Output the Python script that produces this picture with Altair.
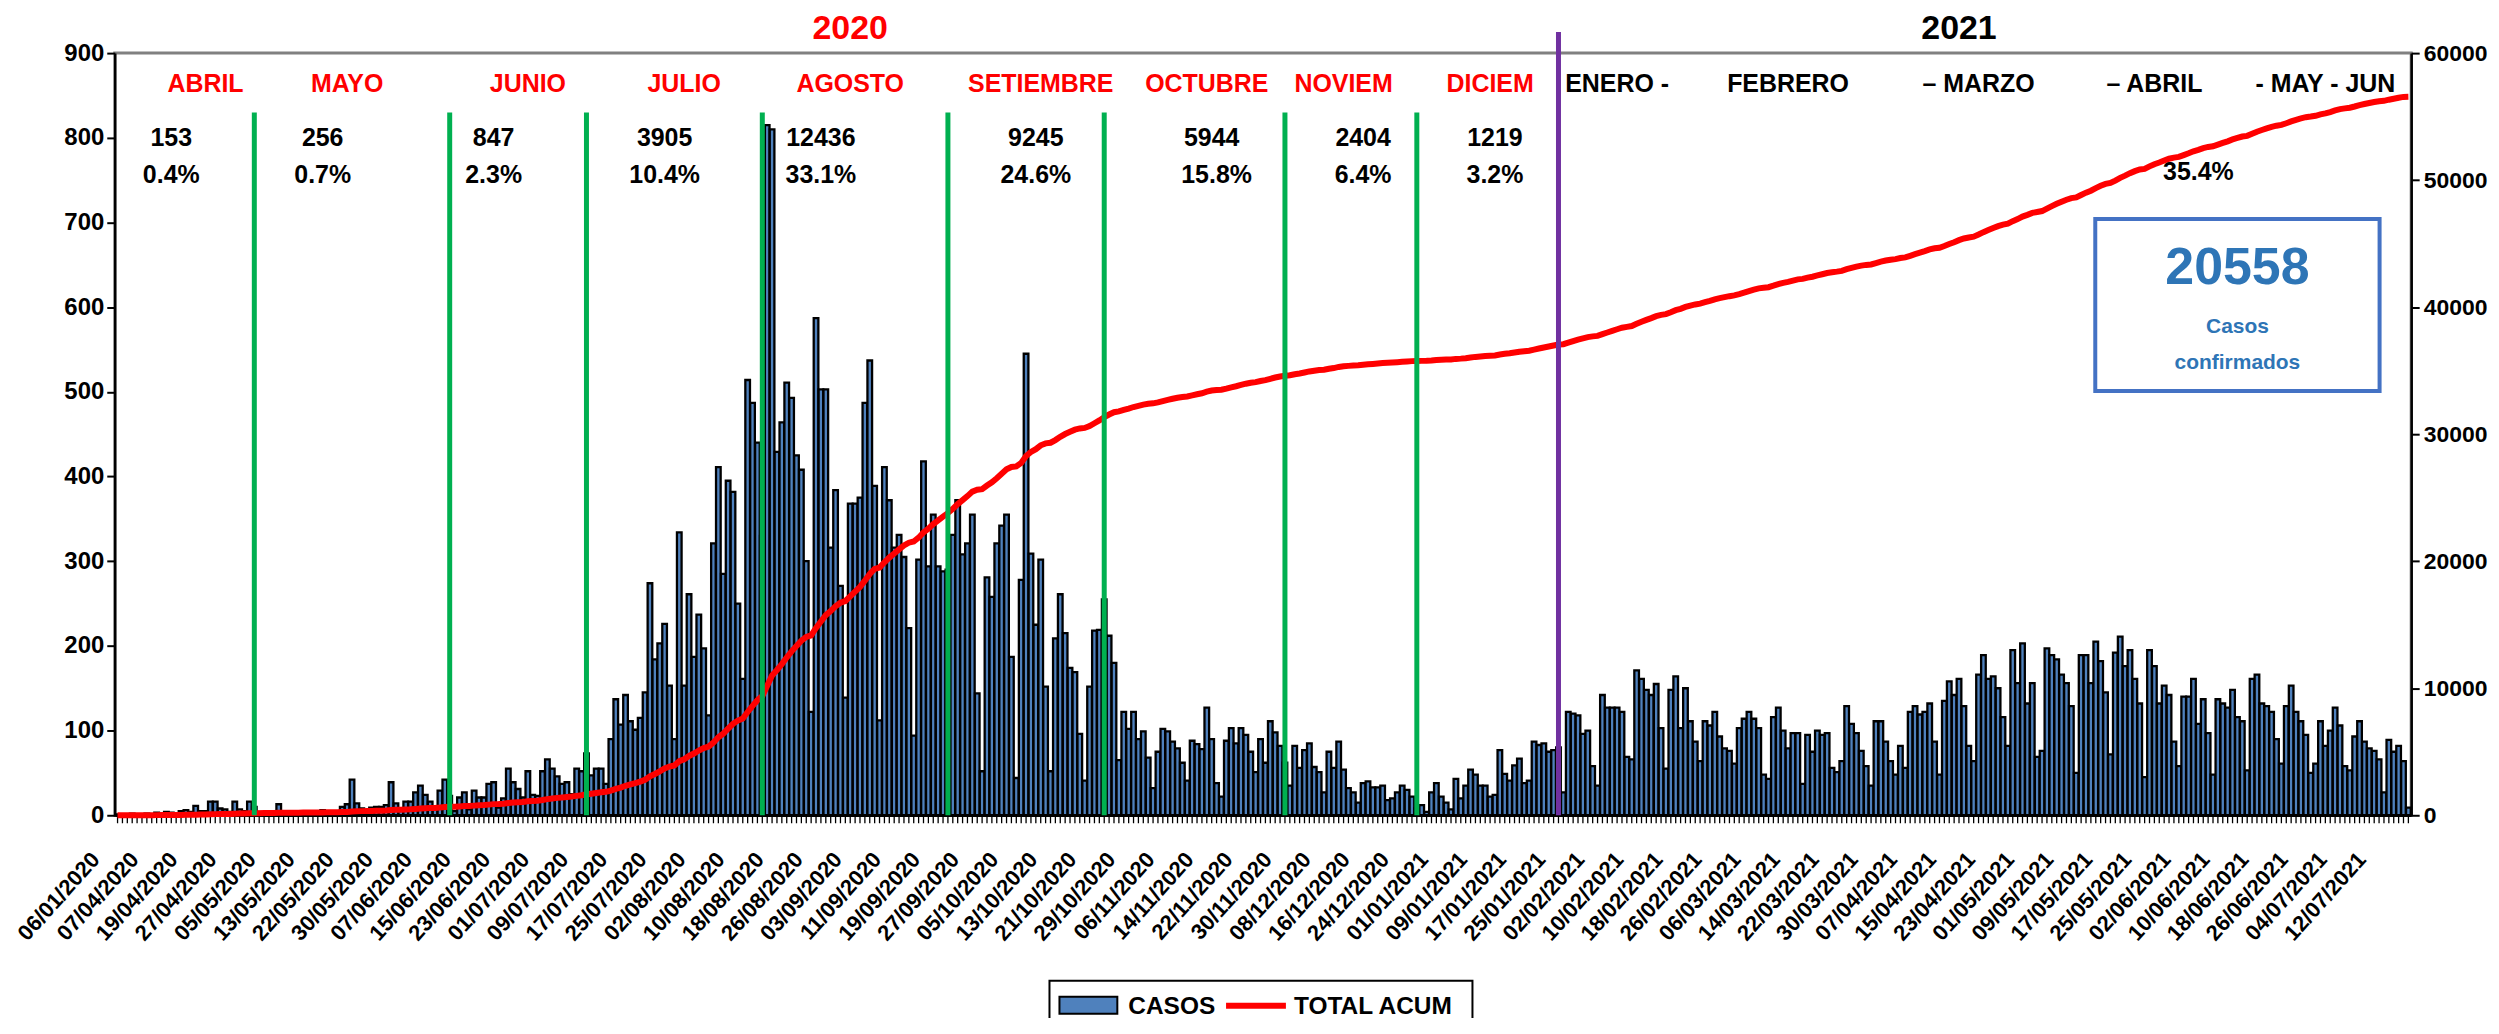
import altair as alt
import pandas as pd

FONT = "Liberation Sans, Arial, sans-serif"

# ---------------- categories (dates on the x axis) ----------------
fechas_inicio = ["06/01/2020", "31/03/2020", "01/04/2020", "02/04/2020", "03/04/2020",
                 "04/04/2020", "05/04/2020", "06/04/2020", "07/04/2020", "08/04/2020",
                 "09/04/2020", "11/04/2020", "13/04/2020", "15/04/2020", "16/04/2020",
                 "18/04/2020"]
fechas = (fechas_inicio
          + [d.strftime("%d/%m/%Y") for d in pd.date_range("2020-04-19", "2020-05-16")]
          + [d.strftime("%d/%m/%Y") for d in pd.date_range("2020-05-18", "2021-07-17")])

etiquetas = ["06/01/2020", "07/04/2020", "19/04/2020", "27/04/2020", "05/05/2020", "13/05/2020",
             "22/05/2020", "30/05/2020", "07/06/2020", "15/06/2020", "23/06/2020", "01/07/2020",
             "09/07/2020", "17/07/2020", "25/07/2020", "02/08/2020", "10/08/2020", "18/08/2020",
             "26/08/2020", "03/09/2020", "11/09/2020", "19/09/2020", "27/09/2020", "05/10/2020",
             "13/10/2020", "21/10/2020", "29/10/2020", "06/11/2020", "14/11/2020", "22/11/2020",
             "30/11/2020", "08/12/2020", "16/12/2020", "24/12/2020", "01/01/2021", "09/01/2021",
             "17/01/2021", "25/01/2021", "02/02/2021", "10/02/2021", "18/02/2021", "26/02/2021",
             "06/03/2021", "14/03/2021", "22/03/2021", "30/03/2021", "07/04/2021", "15/04/2021",
             "23/04/2021", "01/05/2021", "09/05/2021", "17/05/2021", "25/05/2021", "02/06/2021",
             "10/06/2021", "18/06/2021", "26/06/2021", "04/07/2021", "12/07/2021"]

# ---------------- daily cases ----------------
casos_ene_abr = [1, 0, 1, 2, 0, 1, 2, 1, 3, 2, 4, 3, 2, 5, 6, 4, 11, 5, 5, 16, 16, 8, 7, 4, 16, 7, 5, 16, 10]
casos_may = [4, 3, 5, 4, 13, 5, 3, 4, 2, 3, 5, 4, 3, 6, 4, 3, 5, 10, 13]
casos_may_jul = [42, 14, 8, 6, 9, 10, 10, 12, 39, 14, 8, 16, 16, 27, 35, 24, 16, 8, 29, 42,
                 23, 5, 21, 27, 7, 29, 21, 21, 37, 39, 9, 20, 55, 39, 31, 21, 52, 24, 23, 52,
                 66, 55, 46, 37, 39, 25, 55, 52, 73]
casos_jul_ago = [47, 55, 55, 37, 90, 137, 107, 142, 111, 101, 115, 145, 274, 184, 203, 226, 153, 90, 334, 153,
                 261, 187, 237, 197, 118, 321, 411, 285, 395, 382, 250, 161, 514, 487, 440, 330, 815, 810]
casos_ago_set = [429, 464, 511, 493, 425, 408, 300, 122, 587, 503, 503, 316, 384, 271, 139, 368, 368, 375,
                 487, 537, 389, 112, 411, 372, 316, 331, 305, 221, 94, 302, 418, 294, 355, 294, 288, 290]
casos_set_nov = [331, 372, 308, 321, 355, 144, 52, 281, 258, 321, 342, 355, 187, 44, 278, 545, 309, 225,
                 302, 152, 52, 209, 261, 215, 174, 169, 96, 41, 152, 218, 219, 255, 212, 180, 65, 122,
                 102, 122, 90, 99, 68, 32, 75, 102, 99, 87, 79, 62, 41, 88, 84, 78, 127]
casos_nov = [90, 38, 22, 88, 103, 85, 103, 95, 75, 51, 90, 62, 111, 98, 82]
casos_nov_ene = [62, 35, 82, 56, 77, 85, 57, 51, 27, 75, 56, 87, 54, 32, 27, 15, 38, 40, 33, 33,
                 35, 18, 20, 27, 35, 30, 22, 8, 12, 4, 27, 38, 22, 15, 7, 43, 20, 35, 54, 48,
                 35, 35, 22, 24, 77, 49, 41, 59, 67, 38, 41, 87, 83, 85, 75, 77, 80, 27, 122, 120,
                 118, 96]
casos_2021 = [100, 58, 35, 142, 127, 127, 127, 122, 69, 66,
              171, 161, 148, 142, 155, 103, 55, 148, 164, 103,
              150, 111, 87, 64, 111, 106, 122, 93, 79, 76,
              61, 103, 114, 122, 114, 103, 48, 43, 116, 127,
              100, 79, 97, 97, 37, 95, 75, 100, 95, 97,
              56, 51, 64, 129, 108, 97, 76, 58, 35, 111,
              111, 87, 64, 48, 82, 56, 122, 129, 119, 122,
              132, 87, 48, 135, 158, 142, 161, 129, 82, 64,
              166, 189, 161, 164, 150, 116, 82, 195, 156, 203,
              132, 156, 69, 76, 197, 189, 184, 166, 156, 129,
              50, 189, 189, 156, 205, 182, 145, 72, 192, 211,
              176, 195, 161, 132, 45, 195, 176, 132, 153, 142,
              87, 58, 140, 140, 161, 108, 137, 97, 48, 137,
              132, 127, 148, 116, 111, 53, 161, 166, 132, 129,
              122, 90, 61, 129, 153, 122, 111, 95, 50, 61,
              111, 82, 100, 127, 106, 58, 53, 93, 111, 87,
              79, 76, 66, 27, 89, 75, 82, 64, 9]

casos = (casos_ene_abr + casos_may + casos_may_jul + casos_jul_ago + casos_ago_set
         + casos_set_nov + casos_nov + casos_nov_ene + casos_2021)

# ---------------- annotation texts ----------------
meses_2020 = ["ABRIL", "MAYO", "JUNIO", "JULIO", "AGOSTO", "SETIEMBRE", "OCTUBRE", "NOVIEM", "DICIEM"]
meses_2021 = ["ENERO -", "FEBRERO", "\u2013 MARZO", "\u2013 ABRIL", "- MAY - JUN"]
casos_mes = ["153", "256", "847", "3905", "12436", "9245", "5944", "2404", "1219"]
pct_mes = ["0.4%", "0.7%", "2.3%", "10.4%", "33.1%", "24.6%", "15.8%", "6.4%", "3.2%"]
pct_2021 = ["35.4%"]
total_2021 = ["20558"]
caja_texto = ["Casos", "confirmados"]
anios = ["2020", "2021"]
limites_mes = ["01/05/2020", "11/06/2020", "09/07/2020", "14/08/2020", "21/09/2020",
               "23/10/2020", "29/11/2020", "26/12/2020"]
limite_anio = ["24/01/2021"]
leyenda = ["CASOS", "TOTAL ACUM"]

# anchor categories of the annotations (index into fechas)
pos_meses_2020 = [18, 47, 84, 116, 150, 189, 223, 251, 281]
pos_meses_2021 = [307, 342, 381, 417, 452]
pos_casos_mes = [11, 42, 77, 112, 144, 188, 224, 255, 282]
pos_pct_mes = [11, 42, 77, 112, 144, 188, 225, 255, 282]

df = pd.DataFrame({"fecha": fechas, "casos": casos, "orden": list(range(len(fechas)))})

x_scale = alt.Scale(domain=fechas, paddingInner=0.05, paddingOuter=0.1)
y_left = alt.Scale(domain=[0, 900], nice=False)
y_right = alt.Scale(domain=[0, 60000], nice=False)

x_axis = alt.Axis(title=None, values=etiquetas, labelAngle=-48, labelOverlap=False,
                  labelFontSize=22, labelPadding=40, labelOffset=-22, ticks=False, tickSize=0,
                  domainWidth=2.5, labelLimit=400)

bars = alt.Chart(df).mark_bar(fill="#4F81BD", stroke="black", strokeWidth=2.3).encode(
    x=alt.X("fecha:N", sort=None, scale=x_scale, axis=x_axis),
    y=alt.Y("casos:Q", scale=y_left,
            axis=alt.Axis(title=None, values=list(range(0, 901, 100)), format="d",
                          labelFontSize=24, tickSize=8, tickWidth=2, domainWidth=2.5,
                          labelPadding=3)),
)

# small tick marks under every category
marcas = alt.Chart(df).mark_rule(color="black", strokeWidth=1.3).encode(
    x=alt.X("fecha:N", sort=None, scale=x_scale, axis=None),
    y=alt.value(765), y2=alt.value(772),
)

line = alt.Chart(df).transform_window(
    acum="sum(casos)", frame=[None, 0], sort=[alt.SortField("orden", order="ascending")]
).mark_line(color="#FF0000", strokeWidth=6).encode(
    x=alt.X("fecha:N", sort=None, scale=x_scale, axis=None),
    y=alt.Y("acum:Q", scale=y_right,
            axis=alt.Axis(title=None, orient="right", values=list(range(0, 60001, 10000)),
                          format="d", labelFontSize=23, tickSize=8, tickWidth=2,
                          domainWidth=2.5, labelPadding=4)),
    order="orden:Q",
)


def xq(field="fecha"):
    return alt.X(field + ":N", sort=None, scale=x_scale, axis=None)


def yq(field="y"):
    return alt.Y(field + ":Q", scale=y_left, axis=None)


reglas_df = pd.DataFrame({"fecha": limites_mes, "y0": [0] * len(limites_mes), "y1": [830] * len(limites_mes)})
reglas = alt.Chart(reglas_df).mark_rule(color="#00B050", strokeWidth=5).encode(
    x=xq(), y=yq("y0"), y2="y1:Q")

anio_df = pd.DataFrame({"fecha": limite_anio, "y0": [0], "y1": [925]})
regla_anio = alt.Chart(anio_df).mark_rule(color="#7030A0", strokeWidth=5).encode(
    x=xq(), y=yq("y0"), y2="y1:Q")

caja_df = pd.DataFrame({"fecha": [fechas[434]], "y0": [704], "y1": [501]})
caja = alt.Chart(caja_df).mark_bar(width=285, fill="white", stroke="#4472C4", strokeWidth=4).encode(
    x=xq(), y=yq("y0"), y2="y1:Q")


def textos(lista, pos, y, color, size):
    t = pd.DataFrame({"fecha": [fechas[i] for i in pos], "texto": lista, "y": [y] * len(lista)})
    return alt.Chart(t).mark_text(font=FONT, fontSize=size, fontWeight="bold", color=color,
                                  baseline="middle", align="center").encode(
        x=xq(), y=yq(), text="texto:N")


t_meses20 = textos(meses_2020, pos_meses_2020, 864, "#FF0000", 25)
t_meses21 = textos(meses_2021, pos_meses_2021, 864, "black", 25)
t_casos = textos(casos_mes, pos_casos_mes, 800, "black", 25)
t_pct = textos(pct_mes, pos_pct_mes, 756, "black", 25)
t_pct21 = textos(pct_2021, [426], 759, "black", 25)
t_2020 = textos(anios[:1], [150], 929, "#FF0000", 34)
t_2021 = textos(anios[1:], [377], 929, "black", 34)
t_total = textos(total_2021, [434], 646, "#2E75B6", 52)
t_casos_box = textos(caja_texto[:1], [434], 576, "#2E75B6", 21)
t_conf_box = textos(caja_texto[1:], [434], 534, "#2E75B6", 21)

# ---------------- legend drawn below the plot ----------------
leg_df = pd.DataFrame({"k": ["a"]})
leg_box = alt.Chart(leg_df).mark_rect(fill="white", stroke="black", strokeWidth=2).encode(
    x=alt.value(937), x2=alt.value(1361), y=alt.value(930), y2=alt.value(1010))
leg_sw = alt.Chart(leg_df).mark_rect(fill="#4F81BD", stroke="black", strokeWidth=2).encode(
    x=alt.value(947), x2=alt.value(1005), y=alt.value(946), y2=alt.value(963))
leg_ln = alt.Chart(leg_df).mark_rule(color="#FF0000", strokeWidth=6).encode(
    x=alt.value(1114), x2=alt.value(1174), y=alt.value(955))
leg_t1 = alt.Chart(pd.DataFrame({"t": leyenda[:1]})).mark_text(
    font=FONT, fontSize=24.5, fontWeight="bold", color="black", align="left", baseline="middle").encode(
    x=alt.value(1016), y=alt.value(956), text="t:N")
leg_t2 = alt.Chart(pd.DataFrame({"t": leyenda[1:]})).mark_text(
    font=FONT, fontSize=24.5, fontWeight="bold", color="black", align="left", baseline="middle").encode(
    x=alt.value(1182), y=alt.value(956), text="t:N")

chart = alt.layer(
    bars, marcas, line, reglas, regla_anio, caja,
    t_meses20, t_meses21, t_casos, t_pct, t_pct21, t_2020, t_2021,
    t_total, t_casos_box, t_conf_box,
    leg_box, leg_sw, leg_ln, leg_t1, leg_t2,
).resolve_scale(y="independent").resolve_axis(x="independent").properties(
    width=2302, height=764,
    autosize=alt.AutoSizeParams(type="none"),
    padding={"left": 107, "top": 44, "right": 80, "bottom": 202},
).configure_view(
    stroke="#808080", strokeWidth=3
).configure_axis(
    labelFont=FONT, labelFontWeight="bold", labelColor="black",
    domainColor="black", tickColor="black", grid=False,
)

chart.save("out.html", embed_options={"renderer": "svg", "actions": False})
